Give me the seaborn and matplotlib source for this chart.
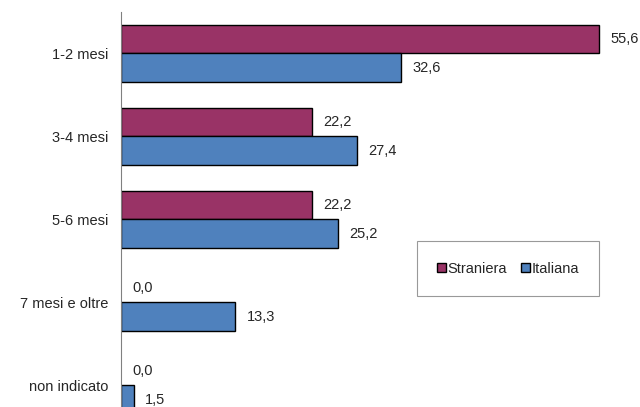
import pandas as pd
import matplotlib.pyplot as plt
import seaborn as sns

categories = ["1-2 mesi", "3-4 mesi", "5-6 mesi", "7 mesi e oltre", "non indicato"]
straniera = [55.6, 22.2, 22.2, 0.0, 0.0]
italiana = [32.6, 27.4, 25.2, 13.3, 1.5]
series = ["Straniera", "Italiana"]
colors = ["#993366", "#4F81BD"]

df = pd.DataFrame({
    "categoria": categories * 2,
    "valore": straniera + italiana,
    "serie": ["Straniera"] * len(categories) + ["Italiana"] * len(categories),
})

sns.set_theme(style="white")
plt.rcParams["font.family"] = ["Liberation Sans", "DejaVu Sans"]

fig = plt.figure(figsize=(6.4, 4.07), dpi=100)
ax = fig.add_axes([121 / 640, 0, 516 / 640, 395 / 407])

sns.barplot(data=df, y="categoria", x="valore", hue="serie", order=categories,
            hue_order=series, palette=colors, orient="h", width=0.685,
            edgecolor="black", linewidth=1, saturation=1, ax=ax)

for cont in ax.containers:
    for bar, v in zip(cont, cont.datavalues):
        if v == 0:
            bar.set_linewidth(0)
    labels = [f"{v:.1f}".replace(".", ",") for v in cont.datavalues]
    ax.bar_label(cont, labels=labels, padding=8, fontsize=10.5)

ax.set_xlim(0, 60)
ax.set_ylim(4.26, -0.5)
ax.set_xlabel("")
ax.set_ylabel("")
ax.set_xticks([])
ax.tick_params(axis="y", length=0, pad=9, labelsize=10.5)
for s in ["top", "right", "bottom"]:
    ax.spines[s].set_visible(False)
ax.spines["left"].set_color("#808080")
ax.spines["left"].set_linewidth(0.8)

handles, labels = ax.get_legend_handles_labels()
leg = ax.legend(handles, labels, loc="center", bbox_to_anchor=(0.75, 0.35),
                ncol=2, frameon=True, fancybox=False, fontsize=10.5,
                handlelength=0.6, handleheight=0.6, handletextpad=0.1,
                columnspacing=1.0, borderpad=1.4, borderaxespad=0)
leg.get_frame().set_edgecolor("#808080")
leg.get_frame().set_linewidth(0.8)

fig.savefig("out.png", dpi=100)
